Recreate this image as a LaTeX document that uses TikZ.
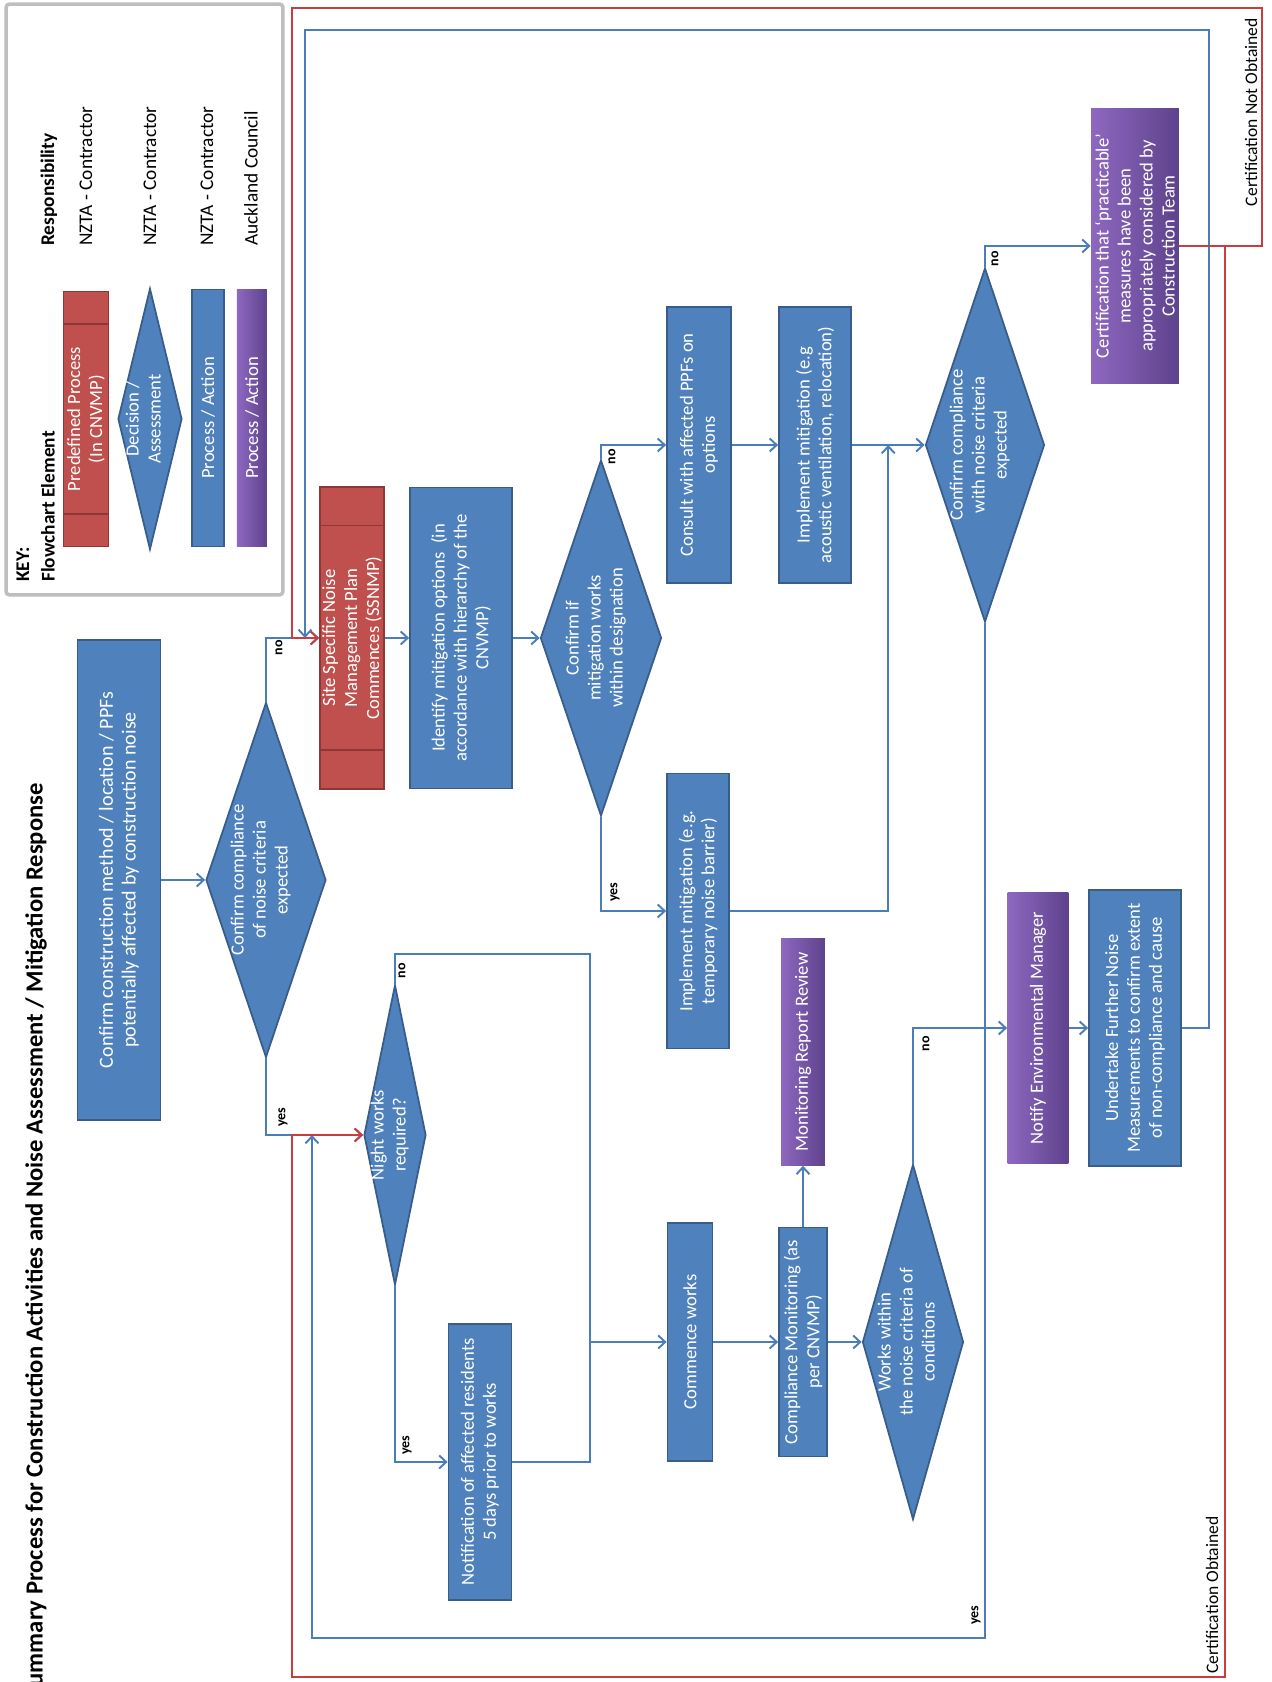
\documentclass[tikz,border=0pt]{standalone}
\usepackage{fontspec}
\setmainfont{Carlito}
\usetikzlibrary{shapes.geometric, arrows.meta, calc}
\definecolor{actionblue}{RGB}{79,129,189}
\definecolor{actionedge}{RGB}{56,93,138}
\definecolor{predefred}{RGB}{192,80,77}
\definecolor{predefedge}{RGB}{140,56,54}
\definecolor{councillight}{RGB}{142,104,192}
\definecolor{councildark}{RGB}{94,66,140}
\definecolor{flowblue}{RGB}{74,126,187}
\definecolor{flowred}{RGB}{200,62,62}
\definecolor{keygray}{RGB}{190,190,190}

% text of a decision node, kept out of the size of the diamond
\newcommand{\zerobox}[1]{\smash{\makebox[0pt]{\begin{tabular}{@{}c@{}}#1\end{tabular}}}}

\begin{document}
\begin{tikzpicture}[
    x=0.02cm, y=0.02cm, rotate=90, transform shape,
    font=\fontsize{10.6}{12.5}\selectfont,
    action/.style={rectangle, draw=actionedge, line width=1pt, fill=actionblue,
                   text=white, align=center, inner sep=1pt},
    predef/.style={rectangle, draw=predefedge, line width=1pt, fill=predefred,
                   text=white, align=center, inner sep=1pt},
    council/.style={rectangle, left color=councillight, right color=councildark,
                    text=white, align=center, inner sep=1pt},
    decision/.style={diamond, draw=actionedge, line width=1pt, fill=actionblue,
                     text=white, inner sep=0pt},
    keybox/.style={rectangle, draw=keygray, line width=2pt, rounded corners=2pt, fill=white},
    keytext/.style={anchor=west, inner sep=0pt, font=\fontsize{11}{13}\selectfont},
    answer/.style={font=\fontsize{8}{9}\selectfont\bfseries, inner sep=0pt},
    arrow/.style={-{Straight Barb[length=1.4mm, width=2.6mm]}, draw=flowblue, line width=1.1pt},
    link/.style={draw=flowblue, line width=1.1pt},
    redarrow/.style={-{Straight Barb[length=1.4mm, width=2.6mm]}, draw=flowred, line width=1.1pt}
]
\path[use as bounding box, fill=white] (0,0) rectangle (1682,1271);

% Title
\node[anchor=east, inner sep=0pt, font=\fontsize{14}{16}\selectfont\bfseries] (title) at (899,1235)
    {Summary Process for Construction Activities and Noise Assessment / Mitigation Response};

% Key
\node[keybox, minimum width=11.82cm, minimum height=5.54cm] (key) at (1382.5,1126.5) {};
\node[keytext, font=\fontsize{11}{13}\selectfont\bfseries] (keytitle) at (1100,1248) {KEY:};
\node[keytext, font=\fontsize{11}{13}\selectfont\bfseries] (keyelement) at (1100,1223) {Flowchart Element};
\node[keytext, font=\fontsize{11}{13}\selectfont\bfseries] (keyresp) at (1436,1222) {Responsibility};
\node[predef, minimum width=5.1cm, minimum height=0.9cm, inner sep=0pt] (keypre) at (1263,1185) {Predefined Process\\(In CNVMP)};
\node[decision, minimum width=5.22cm, minimum height=1.28cm] (keydec) at (1263,1121) {\zerobox{Decision /\\Assessment}};
\node[action, minimum width=5.14cm, minimum height=0.64cm] (keyact) at (1264,1063) {Process / Action};
\node[council, minimum width=5.14cm, minimum height=0.6cm] (keycouncil) at (1264,1019) {Process / Action};
\node[keytext] (resppre) at (1436,1185) {NZTA - Contractor};
\node[keytext] (respdec) at (1436,1121) {NZTA - Contractor};
\node[keytext] (respact) at (1436,1064) {NZTA - Contractor};
\node[keytext] (respcouncil) at (1436,1020) {Auckland Council};

% Assessment
\node[action, minimum width=9.6cm, minimum height=1.66cm, font=\fontsize{11.4}{13}\selectfont] (method) at (802,1152)
    {Confirm construction method / location / PPFs\\potentially affected by construction noise};
\node[decision, minimum width=7.1cm, minimum height=2.4cm] (expect) at (802,1005)
    {\zerobox{Confirm compliance\\of noise criteria\\expected}};

% Mitigation branch
\node[predef, minimum width=6.04cm, minimum height=1.28cm] (ssnmp) at (1044,919)
    {Site Specific Noise\\Management Plan\\Commences (SSNMP)};
\node[action, minimum width=6.02cm, minimum height=2.04cm] (identify) at (1044,810)
    {Identify mitigation options~ (in\\accordance with hierarchy of the\\CNVMP)};
\node[decision, minimum width=7.12cm, minimum height=2.42cm] (within) at (1044,670)
    {\zerobox{Confirm if\\mitigation works\\within designation}};
\node[action, minimum width=5.52cm, minimum height=1.28cm] (consult) at (1237,572)
    {Consult with affected PPFs on\\options};
\node[action, minimum width=5.52cm, minimum height=1.44cm] (acoustic) at (1237,456)
    {Implement mitigation (e.g\\acoustic ventilation, relocation)};
\node[action, minimum width=5.5cm, minimum height=1.24cm] (barrier) at (771,573)
    {Implement mitigation (e.g.\\temporary noise barrier)};
\node[decision, minimum width=7.08cm, minimum height=2.38cm] (expect2) at (1237,286)
    {\zerobox{Confirm compliance\\with noise criteria\\expected}};
\node[council, minimum width=5.5cm, minimum height=1.76cm] (cert) at (1436,136)
    {Certification that `practicable'\\measures have been\\appropriately considered by\\Construction Team};

% Works branch
\node[decision, minimum width=6cm, minimum height=1.24cm] (night) at (547,876)
    {\zerobox{Night works\\required?}};
\node[action, minimum width=5.52cm, minimum height=1.26cm] (notice) at (220,791)
    {Notification of affected residents\\5 days prior to works};
\node[action, minimum width=4.76cm, minimum height=0.9cm] (commence) at (340,581) {Commence works};
\node[action, minimum width=4.58cm, minimum height=0.96cm] (monitor) at (340,468)
    {Compliance Monitoring (as\\per CNVMP)};
\node[council, minimum width=4.54cm, minimum height=0.88cm] (review) at (630,468) {Monitoring Report Review};
\node[decision, minimum width=7.1cm, minimum height=2.02cm] (criteria) at (340,358)
    {\zerobox{Works within\\the noise criteria of\\conditions}};
\node[council, minimum width=5.44cm, minimum height=1.22cm] (envmgr) at (654,233) {Notify Environmental Manager};
\node[action, minimum width=5.52cm, minimum height=1.84cm] (measure) at (654,136)
    {Undertake Further Noise\\Measurements to confirm extent\\of non-compliance and cause};

% Predefined process bars
\foreach \p in {keypre, ssnmp} {
    \draw[predefedge, line width=1pt] ($(\p.north west)!0.13!(\p.north east)$) -- ($(\p.south west)!0.13!(\p.south east)$);
    \draw[predefedge, line width=1pt] ($(\p.north east)!0.13!(\p.north west)$) -- ($(\p.south east)!0.13!(\p.south west)$);
}

% Return lines
\coordinate (loopa) at (1652,966);
\coordinate (loopb) at (44,959);
\coordinate (reda) at (1674,979);
\coordinate (redb) at (5,979);
\coordinate (redsplit) at (1436,46);
\coordinate (worksjoin) at (340,681);

% Arrows
\draw[arrow] (method) -- (expect);
\draw[arrow] (expect.east) -| (ssnmp.north);
\draw[arrow] (expect.west) -| (night.north);
\draw[arrow] (ssnmp) -- (identify);
\draw[arrow] (identify) -- (within);
\draw[arrow] (within.east) -| (consult.north);
\draw[arrow] (within.west) -| (barrier.north);
\draw[arrow] (consult) -- (acoustic);
\draw[arrow] (acoustic) -- (expect2);
\draw[arrow] (barrier.south) |- ($(acoustic.south)!0.5!(expect2.north)$);
\draw[arrow] (expect2.east) -| (cert.north);
\draw[arrow] (night.east) -- ++(30,0) |- (worksjoin) -- (commence.north);
\draw[arrow] (night.west) -| (notice.north);
\draw[link] (notice.south) |- (worksjoin);
\draw[arrow] (commence) -- (monitor);
\draw[arrow] (monitor) -- (criteria);
\draw[arrow] (monitor) -- (review);
\draw[arrow] (criteria.east) -| (envmgr.north);
\draw[arrow] (envmgr) -- (measure);
\draw[arrow] (measure.south) |- (loopa |- 0,62) -- (loopa) -- (ssnmp.north |- loopa);
\draw[arrow] (expect2.west) -- (loopb |- expect2.west) -- (loopb) -- (night.north |- loopb);
\draw[redarrow] (cert.south) |- (reda |- 0,9) -- (reda) -| (ssnmp.north);
\draw[redarrow] (redsplit) -- (redb |- redsplit) -- (redb) -| (night.north);

% Answers
\node[answer] (no1) at (1034,992) {no};
\node[answer] (yes1) at (565,988) {yes};
\node[answer] (no2) at (1225,659) {no};
\node[answer] (yes2) at (790,656) {yes};
\node[answer] (no3) at (1423,276) {no};
\node[answer] (yes3) at (67,295) {yes};
\node[answer] (no4) at (711,869) {no};
\node[answer] (yes4) at (237,864) {yes};
\node[answer] (no5) at (638,345) {no};
\node[anchor=east, inner sep=0pt, font=\fontsize{10}{12}\selectfont] (notobtained) at (1664,20) {Certification Not Obtained};
\node[anchor=west, inner sep=0pt, font=\fontsize{10}{12}\selectfont] (obtained) at (8,59) {Certification Obtained};

\end{tikzpicture}
\end{document}
